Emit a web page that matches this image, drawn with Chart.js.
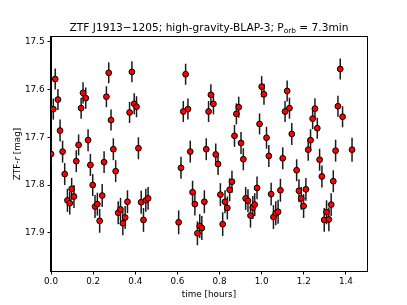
<!DOCTYPE html>
<html>
<head>
<meta charset="utf-8">
<script src="https://cdn.jsdelivr.net/npm/chart.js@4/dist/chart.umd.min.js"></script>
<style>
  html, body { margin: 0; padding: 0; background: #fff; }
</style>
</head>
<body>
<canvas id="lc" width="407" height="305"></canvas>
<script>
// light curve (time in hours, ZTF-r mag, 1 sigma)
const times = [
  0.000, 0.011, 0.020, 0.033, 0.043, 0.055, 0.065, 0.078, 0.089, 0.098,
  0.109, 0.120, 0.131, 0.143, 0.152, 0.165, 0.176, 0.187, 0.198, 0.209,
  0.220, 0.231, 0.243, 0.252, 0.263, 0.274, 0.285, 0.296, 0.307, 0.319,
  0.330, 0.341, 0.352, 0.363, 0.373, 0.384, 0.395, 0.406, 0.415, 0.428,
  0.439, 0.450, 0.461,
  0.606, 0.617, 0.628, 0.639, 0.650, 0.661, 0.672, 0.683, 0.695, 0.706,
  0.716, 0.728, 0.737, 0.748, 0.759, 0.771, 0.782, 0.793, 0.804, 0.815,
  0.826, 0.837, 0.848, 0.859, 0.871, 0.880, 0.891, 0.902, 0.913, 0.924,
  0.935, 0.947, 0.958, 0.967, 0.978, 0.990, 1.000, 1.011, 1.023, 1.034,
  1.045, 1.056, 1.067, 1.078, 1.089, 1.100, 1.111, 1.121, 1.132, 1.143,
  1.166, 1.177, 1.188, 1.199, 1.210, 1.221, 1.232, 1.242, 1.253, 1.264,
  1.275, 1.286, 1.297, 1.308, 1.319, 1.330, 1.340, 1.351, 1.362, 1.373,
  1.384, 1.429
];
const mags = [
  17.735, 17.641, 17.578, 17.621, 17.686, 17.730, 17.777, 17.832, 17.838, 17.808,
  17.824, 17.750, 17.716, 17.639, 17.607, 17.618, 17.706, 17.758, 17.800, 17.845,
  17.840, 17.875, 17.822, 17.752, 17.615, 17.565, 17.664, 17.725, 17.771, 17.858,
  17.851, 17.880, 17.868, 17.835, 17.648, 17.563, 17.630, 17.636, 17.723, 17.836,
  17.873, 17.832, 17.828,
  17.878, 17.764, 17.646, 17.568, 17.641, 17.730, 17.815, 17.840, 17.901, 17.886,
  17.890, 17.835, 17.725, 17.646, 17.611, 17.630, 17.736, 17.756, 17.820, 17.882,
  17.835, 17.848, 17.810, 17.793, 17.697, 17.651, 17.637, 17.712, 17.746, 17.828,
  17.833, 17.864, 17.847, 17.841, 17.806, 17.672, 17.594, 17.610, 17.701, 17.739,
  17.819, 17.867, 17.859, 17.856, 17.811, 17.744, 17.646, 17.603, 17.639, 17.693,
  17.769, 17.812, 17.828, 17.844, 17.809, 17.726, 17.706, 17.661, 17.640, 17.681,
  17.747, 17.782, 17.873, 17.857, 17.872, 17.841, 17.792, 17.728, 17.635, 17.557,
  17.657, 17.726
];
const errs = [
  0.024, 0.022, 0.022, 0.022, 0.023, 0.023, 0.023, 0.024, 0.024, 0.023,
  0.024, 0.023, 0.022, 0.022, 0.022, 0.022, 0.023, 0.023, 0.023, 0.024,
  0.024, 0.025, 0.024, 0.023, 0.022, 0.022, 0.022, 0.023, 0.023, 0.024,
  0.024, 0.025, 0.024, 0.024, 0.022, 0.022, 0.022, 0.022, 0.023, 0.024,
  0.025, 0.024, 0.024,
  0.025, 0.023, 0.022, 0.022, 0.022, 0.023, 0.024, 0.024, 0.025, 0.025,
  0.025, 0.024, 0.023, 0.022, 0.022, 0.022, 0.023, 0.023, 0.024, 0.025,
  0.024, 0.024, 0.024, 0.023, 0.023, 0.022, 0.022, 0.023, 0.023, 0.024,
  0.024, 0.025, 0.024, 0.024, 0.024, 0.022, 0.022, 0.022, 0.023, 0.023,
  0.024, 0.025, 0.025, 0.025, 0.024, 0.023, 0.022, 0.022, 0.022, 0.023,
  0.023, 0.024, 0.024, 0.025, 0.024, 0.023, 0.023, 0.022, 0.022, 0.022,
  0.023, 0.023, 0.025, 0.025, 0.025, 0.024, 0.023, 0.023, 0.022, 0.022,
  0.022, 0.025
];
const xTicks = [0.0, 0.2, 0.4, 0.6, 0.8, 1.0, 1.2, 1.4];
const yTicks = [17.5, 17.6, 17.7, 17.8, 17.9];

const FONT = "'DejaVu Sans', sans-serif";

// matplotlib-style errorbars, frame, title with subscript and axis labels
const decorations = {
  id: 'decorations',
  beforeDatasetsDraw(chart) {
    const { ctx, chartArea: a, scales } = chart;
    ctx.save();
    ctx.beginPath();
    ctx.rect(a.left, a.top, a.right - a.left, a.bottom - a.top);
    ctx.clip();
    ctx.strokeStyle = '#1a1a1a';
    ctx.lineWidth = 1.5;
    for (let i = 0; i < times.length; i++) {
      const px = scales.x.getPixelForValue(times[i]);
      const y1 = scales.y.getPixelForValue(mags[i] - errs[i]);
      const y2 = scales.y.getPixelForValue(mags[i] + errs[i]);
      ctx.beginPath();
      ctx.moveTo(px, y1);
      ctx.lineTo(px, y2);
      ctx.stroke();
    }
    ctx.restore();
  },
  afterDraw(chart) {
    const { ctx, chartArea: a } = chart;
    ctx.save();
    // frame
    ctx.strokeStyle = '#000';
    ctx.lineWidth = 1;
    ctx.strokeRect(Math.round(a.left) - 0.5, Math.round(a.top) - 0.5,
      Math.round(a.right - a.left) + 1, Math.round(a.bottom - a.top) + 1);

    ctx.fillStyle = '#000';
    ctx.textBaseline = 'alphabetic';
    // title
    const big = '10.6px ' + FONT, small = '7.4px ' + FONT;
    const t1 = 'ZTF J1913\u22121205; high-gravity-BLAP-3; P', t2 = 'orb', t3 = ' = 7.3min';
    ctx.font = big; const w1 = ctx.measureText(t1).width, w3 = ctx.measureText(t3).width;
    ctx.font = small; const w2 = ctx.measureText(t2).width;
    let x = (a.left + a.right) / 2 - (w1 + w2 + w3) / 2;
    const base = 31;
    ctx.textAlign = 'left';
    ctx.font = big; ctx.fillText(t1, x, base); x += w1;
    ctx.font = small; ctx.fillText(t2, x, base + 2.3); x += w2;
    ctx.font = big; ctx.fillText(t3, x, base);

    // x label
    ctx.font = '8.8px ' + FONT;
    ctx.textAlign = 'center';
    ctx.fillText('time [hours]', (a.left + a.right) / 2, 297);

    // y label with italic r
    ctx.translate(20, (a.top + a.bottom) / 2);
    ctx.rotate(-Math.PI / 2);
    const l1 = 'ZTF-', l2 = 'r', l3 = ' [mag]';
    ctx.font = '8.8px ' + FONT; const v1 = ctx.measureText(l1).width, v3 = ctx.measureText(l3).width;
    ctx.font = 'italic 8.8px ' + FONT; const v2 = ctx.measureText(l2).width;
    let lx = -(v1 + v2 + v3) / 2;
    ctx.textAlign = 'left';
    ctx.font = '8.8px ' + FONT; ctx.fillText(l1, lx, 0); lx += v1;
    ctx.font = 'italic 8.8px ' + FONT; ctx.fillText(l2, lx, 0); lx += v2;
    ctx.font = '8.8px ' + FONT; ctx.fillText(l3, lx, 0);
    ctx.restore();
  }
};

const ctx = document.getElementById('lc').getContext('2d');
const lcChart = new Chart(ctx, {
  type: 'scatter',
  data: {
    datasets: [{
      data: times.map((t, i) => ({ x: t, y: mags[i] })),
      pointRadius: 2.9,
      pointBackgroundColor: '#ff0000',
      pointBorderColor: '#000',
      pointBorderWidth: 1,
      clip: 0
    }]
  },
  options: {
    responsive: false,
    animation: false,
    layout: { padding: { left: 0, right: 40, top: 37, bottom: 0 } },
    plugins: { legend: { display: false }, tooltip: { enabled: false } },
    scales: {
      x: {
        type: 'linear',
        min: 0,
        max: 1.5,
        afterBuildTicks: s => { s.ticks = xTicks.map(v => ({ value: v })); },
        afterFit: s => { s.height = 34; },
        ticks: {
          color: '#000', padding: 2, maxRotation: 0,
          font: { family: FONT, size: 8.8 },
          callback: v => Number(v).toFixed(1)
        },
        grid: { drawOnChartArea: false, color: '#000', tickLength: 3.5, tickWidth: 1 },
        border: { color: '#000', width: 1 }
      },
      y: {
        reverse: true,
        min: 17.49,
        max: 17.98,
        afterBuildTicks: s => { s.ticks = yTicks.map(v => ({ value: v })); },
        afterFit: s => { s.width = 51; },
        ticks: {
          color: '#000', padding: 3,
          font: { family: FONT, size: 8.8 },
          callback: v => Number(v).toFixed(1)
        },
        grid: { drawOnChartArea: false, color: '#000', tickLength: 3.5, tickWidth: 1 },
        border: { color: '#000', width: 1 }
      }
    }
  },
  plugins: [decorations]
});
</script>
</body>
</html>
